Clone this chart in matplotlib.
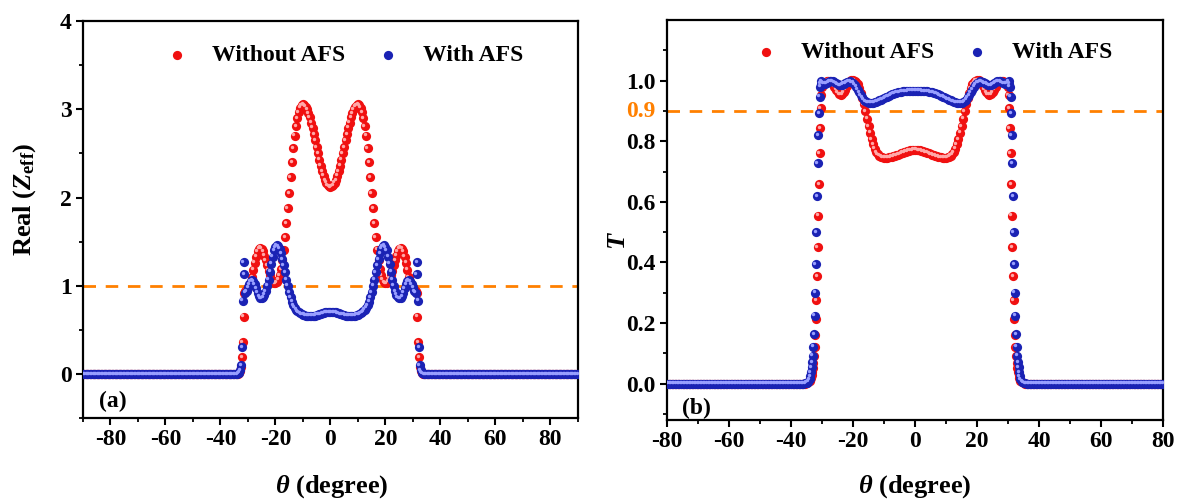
import numpy as np
import matplotlib
matplotlib.use("Agg")
import matplotlib.pyplot as plt
from matplotlib.transforms import offset_copy, blended_transform_factory

plt.rcParams["font.family"] = ["Liberation Serif", "DejaVu Serif"]
plt.rcParams["font.weight"] = "bold"
plt.rcParams["axes.unicode_minus"] = False
plt.rcParams["mathtext.fontset"] = "custom"
plt.rcParams["mathtext.rm"] = "Liberation Serif:bold"
plt.rcParams["mathtext.bf"] = "Liberation Serif:bold"
plt.rcParams["mathtext.it"] = "Liberation Serif:bold:italic"

# ---------------- (a) Real part of effective impedance (half, theta >= 0) ----------------
theta_a_half = [0.0, 0.5, 1.0, 1.5, 2.0, 2.5, 3.0, 3.5, 4.0, 4.5, 5.0, 5.5, 6.0, 6.5, 7.0, 7.5,
                8.0, 8.5, 9.0, 9.5, 10.0, 10.5, 11.0, 11.5, 12.0, 12.5, 13.0, 13.5, 14.0, 14.5,
                15.0, 15.5, 16.0, 16.5, 17.0, 17.5, 18.0, 18.5, 19.0, 19.5, 20.0, 20.5, 21.0,
                21.5, 22.0, 22.5, 23.0, 23.5, 24.0, 24.5, 25.0, 25.5, 26.0, 26.5, 27.0, 27.5,
                28.0, 28.5, 29.0, 29.5, 30.0, 30.5, 31.0,
                31.3, 31.6, 31.9, 32.2, 32.5, 32.8, 33.2, 33.6, 34.0]
zeff_without_half = [2.12, 2.13, 2.14, 2.17, 2.20, 2.25, 2.30, 2.36, 2.43, 2.50, 2.57, 2.65,
                     2.72, 2.79, 2.85, 2.91, 2.96, 3.00, 3.03, 3.05, 3.06, 3.05, 3.02, 2.97,
                     2.90, 2.81, 2.70, 2.56, 2.40, 2.23, 2.05, 1.88, 1.71, 1.55, 1.41, 1.29,
                     1.19, 1.12, 1.07, 1.04, 1.03, 1.03, 1.05, 1.08, 1.12, 1.17, 1.23, 1.29,
                     1.34, 1.39, 1.42, 1.43, 1.42, 1.39, 1.33, 1.26, 1.18, 1.10, 1.04, 1.00,
                     0.98, 0.96, 0.94,
                     0.92, 0.65, 0.36, 0.19, 0.08, 0.03, 0.01, 0.004, 0.0]
zeff_with_half = [0.70, 0.70, 0.70, 0.70, 0.70, 0.69, 0.69, 0.68, 0.68, 0.67, 0.67, 0.66,
                  0.66, 0.66, 0.66, 0.66, 0.66, 0.66, 0.66, 0.67, 0.67, 0.68, 0.69, 0.70,
                  0.71, 0.73, 0.75, 0.78, 0.82, 0.87, 0.93, 1.00, 1.07, 1.15, 1.23, 1.30,
                  1.37, 1.42, 1.45, 1.46, 1.44, 1.40, 1.33, 1.25, 1.16, 1.07, 1.00, 0.94,
                  0.90, 0.87, 0.86, 0.86, 0.88, 0.92, 0.97, 1.02, 1.05, 1.06, 1.05, 1.02,
                  0.98, 0.94, 0.92,
                  1.13, 1.27, 0.83, 0.30, 0.10, 0.04, 0.015, 0.005, 0.0]
theta_a_tail = np.arange(34.5, 90.01, 0.5)

# ---------------- (b) Transmission (half, theta >= 0) ----------------
theta_b_core = [0.0, 0.5, 1.0, 1.5, 2.0, 2.5, 3.0, 3.5, 4.0, 4.5, 5.0, 5.5, 6.0, 6.5, 7.0, 7.5,
                8.0, 8.5, 9.0, 9.5, 10.0, 10.5, 11.0, 11.5, 12.0, 12.5, 13.0, 13.5, 14.0, 14.5,
                15.0, 15.5, 16.0, 16.5, 17.0, 17.5, 18.0, 18.5, 19.0, 19.5, 20.0, 20.5, 21.0,
                21.5, 22.0, 22.5, 23.0, 23.5, 24.0, 24.5, 25.0, 25.5, 26.0, 26.5, 27.0, 27.5,
                28.0, 28.5, 29.0, 29.5, 30.0]
t_without_core = [0.772, 0.772, 0.771, 0.770, 0.769, 0.768, 0.766, 0.764, 0.762, 0.760, 0.758,
                  0.756, 0.754, 0.752, 0.750, 0.749, 0.748, 0.747, 0.746, 0.746, 0.746, 0.747,
                  0.749, 0.752, 0.757, 0.765, 0.776, 0.790, 0.807, 0.828, 0.851, 0.875, 0.899,
                  0.922, 0.943, 0.961, 0.976, 0.988, 0.996, 1.000, 1.002, 1.002, 0.999, 0.992,
                  0.982, 0.971, 0.962, 0.956, 0.954, 0.956, 0.962, 0.971, 0.981, 0.990, 0.996,
                  0.999, 1.000, 0.998, 0.994, 0.988, 0.978]
t_with_core = [0.967, 0.967, 0.967, 0.967, 0.967, 0.966, 0.966, 0.965, 0.965, 0.964, 0.963,
               0.962, 0.960, 0.958, 0.957, 0.955, 0.953, 0.950, 0.948, 0.945, 0.943, 0.940,
               0.938, 0.935, 0.933, 0.931, 0.929, 0.928, 0.927, 0.927, 0.928, 0.930, 0.933,
               0.938, 0.945, 0.953, 0.962, 0.971, 0.980, 0.987, 0.993, 0.996, 0.998, 0.997,
               0.995, 0.992, 0.990, 0.987, 0.985, 0.986, 0.988, 0.991, 0.995, 0.998, 0.999,
               0.998, 0.995, 0.992, 0.990, 0.992, 0.996]
theta_b_edge = [30.2, 30.4, 30.6, 30.8, 31.0, 31.2, 31.4, 31.6, 31.8, 32.0, 32.2, 32.4, 32.6,
                32.8, 33.0, 33.2, 33.4, 33.6, 33.8, 34.0, 34.5, 35.0, 35.5]
t_without_edge = [0.953, 0.909, 0.843, 0.761, 0.659, 0.555, 0.451, 0.355, 0.275, 0.213, 0.160,
                  0.120, 0.090, 0.068, 0.050, 0.037, 0.027, 0.020, 0.014, 0.010, 0.005, 0.002,
                  0.0]
t_with_edge = [0.998, 0.990, 0.980, 0.947, 0.892, 0.821, 0.728, 0.618, 0.501, 0.394, 0.300,
               0.224, 0.163, 0.122, 0.092, 0.070, 0.054, 0.037, 0.025, 0.015, 0.007, 0.003,
               0.001]
theta_b_tail = np.arange(36.0, 80.01, 0.5)

RED = "#f01010"
RED_HI = "#ffa8a8"
BLUE = "#1a22b4"
BLUE_HI = "#989eff"
ORANGE = "#ff8000"

TICK_FS = 17
LABEL_FS = 19


def mirror(theta_half, value_half):
    th = np.asarray(theta_half, float)
    v = np.asarray(value_half, float)
    return np.concatenate([-th[::-1], th[1:]]), np.concatenate([v[::-1], v[1:]])


def full_series(parts_theta, parts_value):
    th = np.concatenate([np.asarray(p, float) for p in parts_theta])
    v = np.concatenate([np.asarray(p, float) for p in parts_value])
    return mirror(th, v)


def balls(ax, x, y, color, hi, label, z):
    ax.scatter(x, y, s=44, color=color, linewidths=0, zorder=z, label=label, clip_on=True)
    tr = offset_copy(ax.transData, fig=ax.figure, x=-1.0, y=1.0, units="points")
    ax.scatter(x, y, s=6, color=hi, linewidths=0, zorder=z + 0.1, transform=tr, clip_on=True)


def style_axes(ax):
    for sp in ax.spines.values():
        sp.set_linewidth(1.6)
    ax.tick_params(which="major", direction="out", length=5, width=1.5,
                   labelsize=TICK_FS, pad=3, top=False, right=False)
    ax.tick_params(which="minor", direction="out", length=3, width=1.3,
                   top=False, right=False)
    for lab in ax.get_xticklabels() + ax.get_yticklabels():
        lab.set_fontweight("bold")


def add_legend(ax, anchor):
    ax.legend(loc="center", bbox_to_anchor=anchor, ncol=2, frameon=False,
              scatterpoints=1, handlelength=1.0, handletextpad=1.0, columnspacing=1.3,
              borderpad=0.2, prop={"weight": "bold", "size": TICK_FS})


fig = plt.figure(figsize=(11.8, 5.01), dpi=100)
ax1 = fig.add_axes([0.0703, 0.1657, 0.4195, 0.792])
ax2 = fig.add_axes([0.5653, 0.1617, 0.4203, 0.798])

# ---- panel (a)
tail_zeros_a = np.zeros(len(theta_a_tail))
xa_r, ya_r = full_series([theta_a_half, theta_a_tail], [zeff_without_half, tail_zeros_a])
xa_b, ya_b = full_series([theta_a_half, theta_a_tail], [zeff_with_half, tail_zeros_a])
ax1.axhline(1.0, color=ORANGE, lw=2.0, ls=(0, (4.5, 3.5)), zorder=1)
balls(ax1, xa_r, ya_r, RED, RED_HI, "Without AFS", 2)
balls(ax1, xa_b, ya_b, BLUE, BLUE_HI, "With AFS", 3)
ax1.set_xlim(-90, 90)
ax1.set_ylim(-0.5, 4)
ax1.set_xticks(np.arange(-80, 81, 20))
ax1.set_xticks(np.arange(-90, 91, 10), minor=True)
ax1.set_yticks([0, 1, 2, 3, 4])
ax1.set_yticks(np.arange(-0.5, 4.01, 0.5), minor=True)
style_axes(ax1)
ax1.set_xlabel(r"$\theta$ (degree)", fontsize=LABEL_FS, fontweight="bold")
ax1.set_ylabel(r"Real ($Z_{\rm eff}$)", fontsize=LABEL_FS, fontweight="bold")
ax1.xaxis.set_label_coords(0.503, -0.138)
ax1.yaxis.set_label_coords(-0.091, 0.55)
ax1.text(0.033, 0.042, "(a)", transform=ax1.transAxes, fontsize=TICK_FS, fontweight="bold",
         ha="left", va="center")
add_legend(ax1, (0.528, 0.914))

# ---- panel (b)
tail_zeros_b = np.zeros(len(theta_b_tail))
xb_r, yb_r = full_series([theta_b_core, theta_b_edge, theta_b_tail],
                         [t_without_core, t_without_edge, tail_zeros_b])
xb_b, yb_b = full_series([theta_b_core, theta_b_edge, theta_b_tail],
                         [t_with_core, t_with_edge, tail_zeros_b])
ax2.axhline(0.9, color=ORANGE, lw=2.0, ls=(0, (4.5, 3.5)), zorder=1)
balls(ax2, xb_r, yb_r, RED, RED_HI, "Without AFS", 2)
balls(ax2, xb_b, yb_b, BLUE, BLUE_HI, "With AFS", 3)
ax2.set_xlim(-80, 80)
ax2.set_ylim(-0.12, 1.2)
ax2.set_xticks(np.arange(-80, 81, 20))
ax2.set_xticks(np.arange(-80, 81, 10), minor=True)
ax2.set_yticks(np.round(np.arange(0, 1.01, 0.2), 1))
ax2.set_yticks(np.round(np.arange(-0.1, 1.11, 0.1), 1), minor=True)
ax2.yaxis.set_major_formatter(matplotlib.ticker.FormatStrFormatter("%.1f"))
style_axes(ax2)
ax2.set_xlabel(r"$\theta$ (degree)", fontsize=LABEL_FS, fontweight="bold")
ax2.set_ylabel(r"$T$", fontsize=LABEL_FS, fontweight="bold")
ax2.xaxis.set_label_coords(0.5, -0.133)
ax2.yaxis.set_label_coords(-0.075, 0.45)
trb = blended_transform_factory(ax2.transAxes, ax2.transData)
ax2.annotate("0.9", xy=(0, 0.9), xycoords=trb, xytext=(-8, 0), textcoords="offset points",
             ha="right", va="center", color=ORANGE, fontsize=TICK_FS, fontweight="bold")
ax2.text(0.03, 0.03, "(b)", transform=ax2.transAxes, fontsize=TICK_FS, fontweight="bold",
         ha="left", va="center")
add_legend(ax2, (0.537, 0.92))

fig.savefig("out.png", dpi=100)
